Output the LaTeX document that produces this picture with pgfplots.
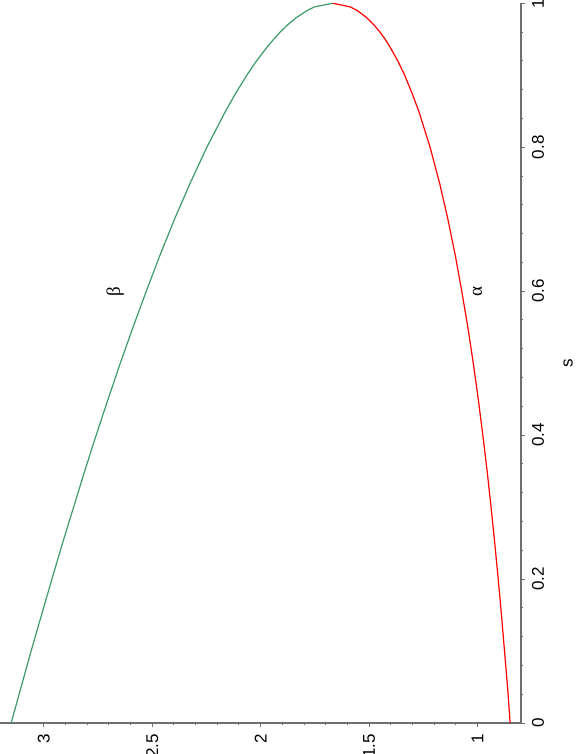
\documentclass[border=0pt]{standalone}
\usepackage{pgfplots}
\pgfplotsset{compat=1.18}
\usepackage{fontspec}
\setmainfont{Liberation Sans}
\newfontfamily\grk{Liberation Serif}
\definecolor{maplegreen}{RGB}{60,155,105}
\definecolor{axisgray}{RGB}{110,110,110}

% s, alpha, beta
\pgfplotstableread{
s      alpha  beta
0.00   0.850  3.150
0.05   0.862  3.104
0.10   0.876  3.058
0.15   0.890  3.010
0.20   0.905  2.962
0.25   0.921  2.913
0.30   0.938  2.862
0.35   0.956  2.811
0.40   0.976  2.758
0.45   0.997  2.703
0.50   1.020  2.647
0.55   1.045  2.588
0.60   1.073  2.527
0.65   1.103  2.464
0.70   1.137  2.397
0.75   1.175  2.325
0.80   1.219  2.248
0.85   1.271  2.162
0.875  1.302  2.115
0.90   1.336  2.064
0.92   1.368  2.019
0.94   1.405  1.968
0.95   1.426  1.940
0.96   1.450  1.910
0.97   1.478  1.876
0.98   1.511  1.836
0.99   1.555  1.785
0.995  1.587  1.752
1.00   1.667  1.667
}\curves

\begin{document}
\begin{tikzpicture}
\begin{axis}[name=ax, scale only axis, width=260.35pt, height=359.85pt,
  x dir=reverse, xmin=0.8, xmax=3.2, ymin=0, ymax=1,
  axis x line*=bottom, axis y line*=right,
  axis line style={axisgray, line width=0.6pt},
  xtick={1,1.5,2,2.5,3}, ytick={0,0.2,0.4,0.6,0.8,1}, minor tick num=4,
  tick align=outside, major tick length=2pt, minor tick length=1.2pt,
  tick style={axisgray, line width=0.5pt},
  xticklabel style={rotate=90, anchor=east},
  yticklabel style={rotate=90, anchor=north},
  tick label style={font=\fontsize{8.5}{10}\selectfont},
  /pgf/number format/assume math mode=true,
  clip=false]
\addplot[maplegreen, line width=0.6pt] table[x=beta, y=s] {\curves};
\addplot[red, line width=0.6pt] table[x=alpha, y=s] {\curves};
\node[rotate=90, font=\grk\fontsize{9.5}{10}\selectfont] at (axis cs:2.67,0.6) {β};
\node[rotate=90, font=\grk\fontsize{9.5}{10}\selectfont] at (axis cs:1.0,0.6) {α};
\node[rotate=90, font=\fontsize{8.5}{10}\selectfont] at (axis cs:0.583,0.5) {s};
\end{axis}
\pgfresetboundingbox
\path[use as bounding box] ([xshift=-0.15pt,yshift=-15.5pt]ax.south west) rectangle ([xshift=287.35pt,yshift=361.5pt]ax.south west);
\end{tikzpicture}
\end{document}
